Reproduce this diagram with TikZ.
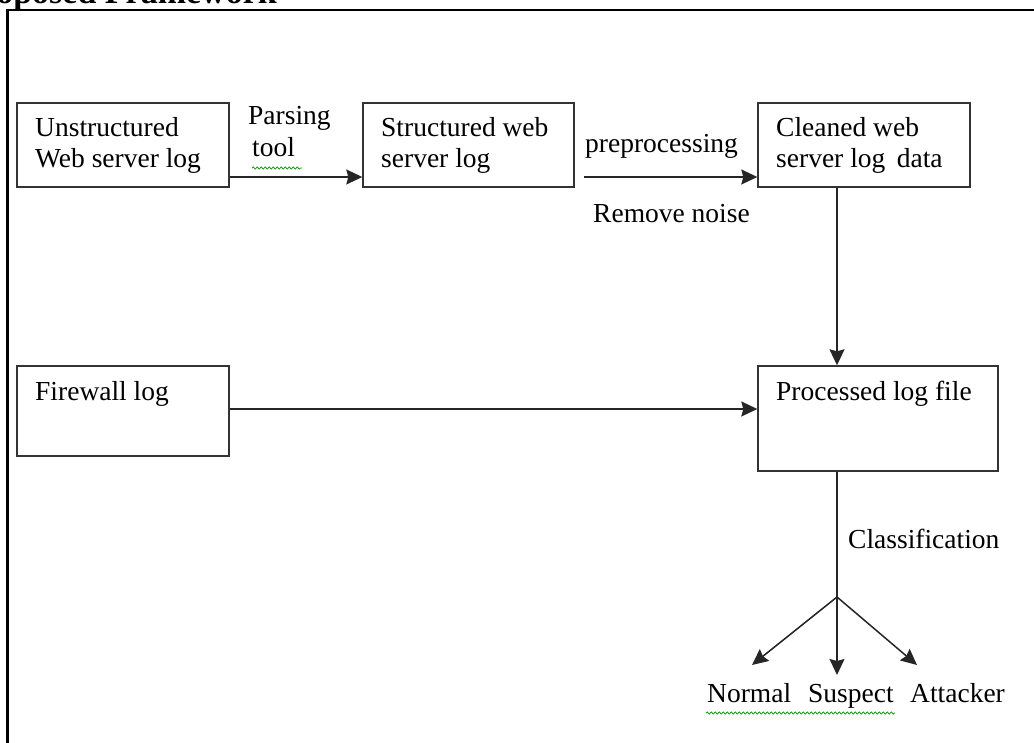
\documentclass[tikz,border=0pt]{standalone}
\usepackage{fontspec}
\setmainfont{Liberation Serif}
\usetikzlibrary{arrows.meta,decorations.pathmorphing}
\begin{document}
\begin{tikzpicture}[x=1pt,y=-1pt,
  box/.style={draw=black!80,line width=1.4pt,rectangle,inner sep=0pt},
  txt/.style={inner sep=0pt,font=\fontsize{27.5}{31}\selectfont,align=left},
  conn/.style={draw=black!85,line width=1.5pt,-{Stealth[length=16pt,width=15pt,inset=2pt]}},
  squig/.style={draw=green!60!black,line width=0.7pt,decorate,decoration={snake,amplitude=1.1pt,segment length=4pt}}
]
\useasboundingbox (0,0) rectangle (1034,743);
% heading (cropped)
\node[inner sep=0pt,anchor=base east,font=\fontsize{34}{40}\selectfont\bfseries] (head) at (277,4) {Proposed Framework};
% outer frame
\draw[line width=2.6pt] (7.5,760) -- (7.5,10) -- (1050,10);
% boxes
\node[box,minimum width=212pt,minimum height=84pt] (b1) at (123,145) {};
\node[box,minimum width=211pt,minimum height=84pt] (b2) at (468.5,145) {};
\node[box,minimum width=212pt,minimum height=84pt] (b3) at (864,145) {};
\node[box,minimum width=212pt,minimum height=90pt] (b4) at (123,411) {};
\node[box,minimum width=240pt,minimum height=105pt] (b5) at (878,418.5) {};
% box texts
\node[txt,anchor=base west] (t1) at (35,137) {Unstructured};
\node[txt,anchor=base west] (t1b) at (35,168) {Web server log};
\node[txt,anchor=base west] (t2) at (381,137) {Structured web};
\node[txt,anchor=base west] (t2b) at (381,168) {server log};
\node[txt,anchor=base west] (t3) at (776,137) {Cleaned web};
\node[txt,anchor=base west] (t3b) at (776,168) {server log\, data};
\node[txt,anchor=base west] (t4) at (35,400) {Firewall log};
\node[txt,anchor=base west] (t5) at (776,400) {Processed log file};
% connector labels
\node[txt,anchor=base west] (lp1) at (248,125) {Parsing};
\node[txt,anchor=base west] (lp2) at (252,157) {tool};
\node[txt,anchor=base west] (lpre) at (585,153) {preprocessing};
\node[txt,anchor=base west] (lrem) at (593,223) {Remove noise};
\node[txt,anchor=base west] (lcls) at (848,548) {Classification};
\node[txt,anchor=base west] (lnor) at (707,702) {Normal};
\node[txt,anchor=base west] (lsus) at (808,702) {Suspect};
\node[txt,anchor=base west] (latt) at (910,702) {Attacker};
% spell-check squiggles
\draw[squig] (252,168) -- (302,168);
\draw[squig] (706,713) -- (895,713);
% connectors
\draw[conn] (b1.east |- 0,177) -- (b2.west |- 0,177);
\draw[conn] (584,177) coordinate (p0) -- (b3.west |- p0);
\draw[conn] (b3.south -| 837,0) -- (b5.north -| 837,0);
\draw[conn] (b4.east |- 0,409) -- (b5.west |- 0,409);
\coordinate (fork) at (837,597);
\coordinate (eN) at (752,665);
\coordinate (eS) at (837,675);
\coordinate (eA) at (917,665);
\draw[draw=black!85,line width=1.5pt] (b5.south -| fork) -- (fork);
\draw[conn] (fork) -- (eN);
\draw[conn] (fork) -- (eS);
\draw[conn] (fork) -- (eA);
\end{tikzpicture}
\end{document}
